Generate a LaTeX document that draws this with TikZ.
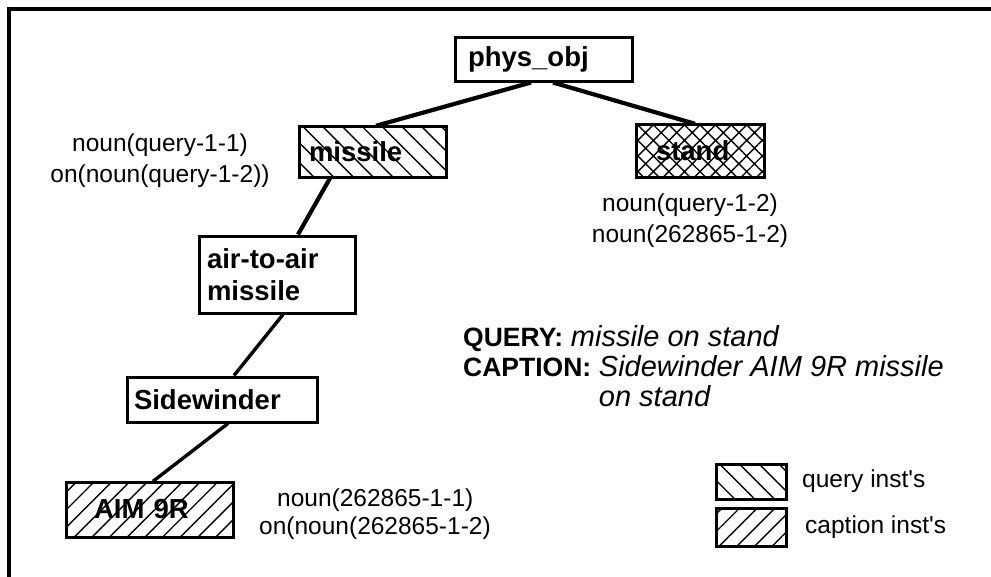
\documentclass[tikz,border=0pt]{standalone}
\usepackage{fontspec}
\setmainfont{Liberation Sans}
\usetikzlibrary{patterns.meta}
\tikzset{
  box/.style={draw, line width=3pt, rectangle, align=left, font=\fontsize{27.5}{32}\selectfont\bfseries, inner ysep=0pt},
  qhatch/.style={pattern={Lines[angle=-45,distance=14pt,line width=1.4pt]}},
  chatch/.style={pattern={Lines[angle=45,distance=12.5pt,line width=1.4pt]}},
  xhatch/.style={pattern={Hatch[angle=45,distance=11pt,line width=1.4pt]}},
  edge/.style={line width=4.2pt},
  thinedge/.style={line width=3.4pt},
  ann/.style={font=\fontsize{24.5}{31}\selectfont, align=center, inner sep=0pt},
  legtxt/.style={font=\fontsize{24.5}{31}\selectfont, anchor=base west, inner sep=0pt},
}
\newcommand{\qcb}[1]{{\fontsize{26.5}{30}\selectfont\bfseries #1}}
\newcommand{\qci}[1]{{\fontsize{29}{30}\selectfont\itshape #1}}
\begin{document}
\begin{tikzpicture}[x=1pt,y=-1pt]
\useasboundingbox (0,0) rectangle (991,576);
% frame
\draw[line width=3.5pt] (9,580) -- (9,9) -- (995,9);
% boxes
\node[box, minimum height=44pt, text width=151pt, inner xsep=13pt] (phys) at (543.5,59) {phys\_obj};
\node[box, qhatch, minimum height=51pt, text width=127pt, inner xsep=10pt] (missile) at (372.5,152) {missile};
\node[box, xhatch, minimum height=53pt, text width=88pt, inner xsep=20pt] (stand) at (700,151) {stand};
\node[box, minimum height=77pt, text width=140pt, inner xsep=8pt] (ata) at (277,274.5) {air-to-air\\missile};
\node[box, minimum height=45pt, text width=176pt, inner xsep=7pt] (side) at (222,399.5) {Sidewinder};
\node[box, chatch, minimum height=55pt, text width=111pt, inner xsep=28pt] (aim) at (149.5,509.5) {AIM 9R};
% edges
\draw[edge] (phys.south -| 531,0) -- (missile.north -| 376,0);
\draw[edge] (phys.south -| 553,0) -- (stand.north -| 695,0);
\draw[edge] (missile.south -| 330,0) -- (ata.north -| 298,0);
\draw[thinedge] (ata.south -| 283,0) -- (side.north -| 234,0);
\draw[thinedge] (side.south -| 228,0) -- (aim.north -| 153,0);
% annotations
\node[ann] (amiss) at (160,161) {noun(query-1-1)\\on(noun(query-1-2))};
\node[ann] (astand) at (690,221) {noun(query-1-2)\\noun(262865-1-2)};
\node[ann, font=\fontsize{24.5}{27.5}\selectfont, align=left, anchor=north west] (aaim) at (259,489) {\hspace*{18pt}noun(262865-1-1)\\on(noun(262865-1-2)};
% query/caption
\node[font=\fontsize{27.5}{30}\selectfont, align=left, anchor=north west, inner sep=0pt] (qc) at (463,325)
  {\qcb{QUERY:} \qci{missile on stand}\\
   \qcb{CAPTION:} \qci{Sidewinder AIM 9R missile}\\
   \phantom{\qcb{CAPTION:} }\qci{on stand}};
% legend
\node[draw, line width=3pt, qhatch, minimum width=70pt, minimum height=35pt, inner sep=0pt] (lq) at (751,481.5) {};
\node[draw, line width=3pt, chatch, minimum width=70pt, minimum height=38pt, inner sep=0pt] (lc) at (751,527) {};
\node[legtxt] (lqt) at (802,487) {query inst\textquotesingle s};
\node[legtxt] (lct) at (805,533) {caption inst\textquotesingle s};
\end{tikzpicture}
\end{document}
